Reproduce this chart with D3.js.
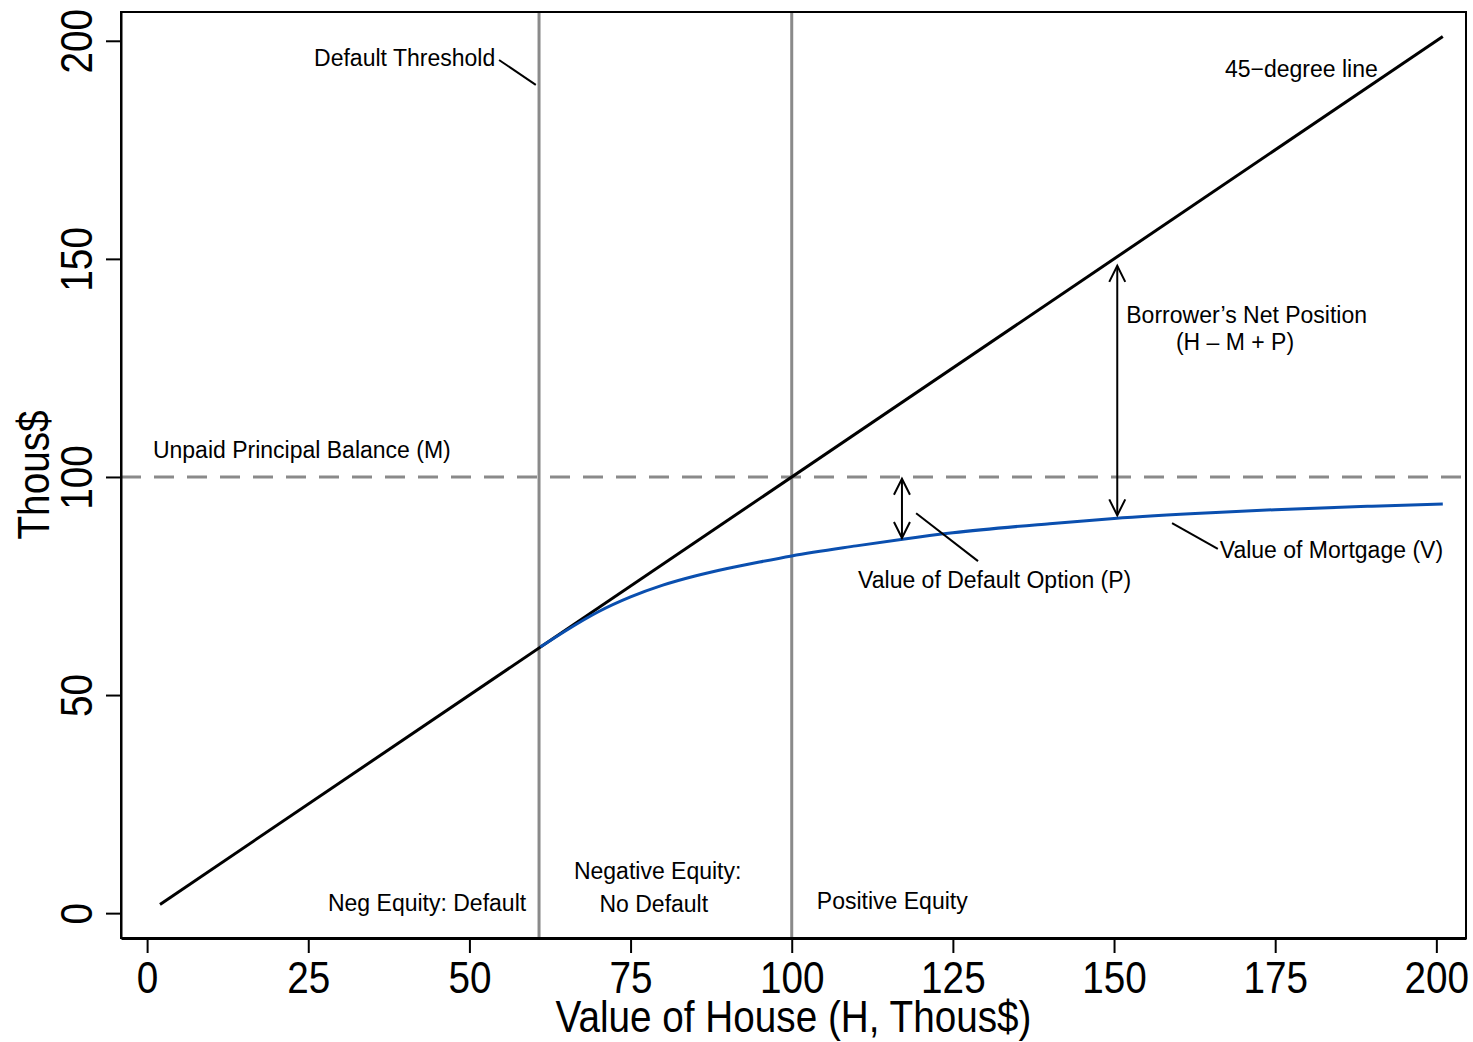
<!DOCTYPE html>
<html>
<head>
<meta charset="utf-8">
<script src="https://cdn.jsdelivr.net/npm/d3@7"></script>
<style>
  body { margin: 0; background: #fff; }
  .ann { font-family: "Liberation Sans", Arial, sans-serif; font-size: 23px; fill: #000; }
  .big { font-family: "Liberation Sans", Arial, sans-serif; font-size: 45px; fill: #000; }
</style>
</head>
<body>
<div id="chart"></div>
<script>
// house value (H) vs value of mortgage (V), thous$
const houseValues    = [61, 65, 70, 75, 80, 85, 90, 95, 100, 110, 117.5, 125, 140, 150, 165, 175, 190, 201];
const mortgageValues = [61, 64.8, 69.1, 72.5, 75.2, 77.3, 79.0, 80.5, 81.9, 84.2, 85.8, 87.2, 89.3, 90.5, 91.8, 92.5, 93.3, 93.8];
const diagonalEnds = [2, 201];          // 45-degree line, H = V
const principal = 100;                   // unpaid principal balance (M)
const defaultThreshold = 60.8;           // vertical line
const xTicks = [0, 25, 50, 75, 100, 125, 150, 175, 200];
const yTicks = [0, 50, 100, 150, 200];

// annotations in data units
const labels = [
  { text: "Default Threshold", x: 54.0, y: 194.3, anchor: "end" },
  { text: "45\u2212degree line", x: 167.2, y: 191.6, anchor: "start" },
  { text: "Borrower\u2019s Net Position", x: 151.9, y: 135.3, anchor: "start" },
  { text: "(H \u2013 M + P)", x: 159.6, y: 129.1, anchor: "start" },
  { text: "Unpaid Principal Balance (M)", x: 0.9, y: 104.3, anchor: "start" },
  { text: "Value of Default Option (P)", x: 110.3, y: 74.5, anchor: "start" },
  { text: "Value of Mortgage (V)", x: 166.4, y: 81.4, anchor: "start" },
  { text: "Neg Equity: Default", x: 58.8, y: 0.5, anchor: "end" },
  { text: "Negative Equity:", x: 79.2, y: 7.8, anchor: "middle" },
  { text: "No Default", x: 78.6, y: 0.3, anchor: "middle" },
  { text: "Positive Equity", x: 103.9, y: 0.9, anchor: "start" }
];
const leaders = [
  [[54.6, 195.6], [60.3, 189.9]],
  [[119.3, 91.7], [128.9, 80.7]],
  [[159.0, 89.4], [166.1, 83.5]]
];
const doubleArrows = [
  { x: 150.5, y0: 148.4, y1: 91.2 },
  { x: 117.1, y0: 99.6, y1: 86.0 }
];

const WIDTH = 1473, HEIGHT = 1042;
const M = { left: 121, right: 7, top: 12, bottom: 104 };
const W = WIDTH - M.left - M.right;
const H = HEIGHT - M.top - M.bottom;
const NARROW = 0.86;   // horizontal squeeze of the big axis text

const x = d3.scaleLinear().domain([-4.05, 204.6]).range([M.left, M.left + W]);
const y = d3.scaleLinear().domain([-5.7, 206.6]).range([M.top + H, M.top]);

const GRAY = "#8a8a8a";
const BLUE = "#0a4faf";

const svg = d3.select("#chart").append("svg")
  .attr("width", WIDTH).attr("height", HEIGHT);

// gray reference lines
svg.append("line")
  .attr("x1", x.range()[0]).attr("x2", x.range()[1])
  .attr("y1", y(principal)).attr("y2", y(principal))
  .attr("stroke", GRAY).attr("stroke-width", 3).attr("stroke-dasharray", "20,13");

[defaultThreshold, principal].forEach(v => {
  svg.append("line")
    .attr("x1", x(v)).attr("x2", x(v))
    .attr("y1", y.range()[1]).attr("y2", y.range()[0])
    .attr("stroke", GRAY).attr("stroke-width", 3);
});

// 45-degree line
svg.append("path")
  .datum(diagonalEnds)
  .attr("d", d3.line().x(d => x(d)).y(d => y(d)))
  .attr("fill", "none").attr("stroke", "#000").attr("stroke-width", 3);

// mortgage value curve
const curveData = houseValues.map((h, i) => ({ h, v: mortgageValues[i] }));
svg.append("path")
  .datum(curveData)
  .attr("d", d3.line().curve(d3.curveMonotoneX).x(d => x(d.h)).y(d => y(d.v)))
  .attr("fill", "none").attr("stroke", BLUE).attr("stroke-width", 3);

// double arrows with open heads
const headLen = 16, headHalf = 8;
doubleArrows.forEach(a => {
  const px = x(a.x), top = y(a.y0), bot = y(a.y1);
  const g = svg.append("g").attr("fill", "none").attr("stroke", "#000").attr("stroke-width", 2);
  g.append("line").attr("x1", px).attr("x2", px).attr("y1", top).attr("y2", bot);
  g.append("path").attr("d", `M${px - headHalf},${top + headLen}L${px},${top}L${px + headHalf},${top + headLen}`);
  g.append("path").attr("d", `M${px - headHalf},${bot - headLen}L${px},${bot}L${px + headHalf},${bot - headLen}`);
});

// leader lines
leaders.forEach(l => {
  svg.append("line")
    .attr("x1", x(l[0][0])).attr("y1", y(l[0][1]))
    .attr("x2", x(l[1][0])).attr("y2", y(l[1][1]))
    .attr("stroke", "#000").attr("stroke-width", 2);
});

// annotation text
svg.selectAll("text.ann").data(labels).join("text")
  .attr("class", "ann")
  .attr("x", d => x(d.x)).attr("y", d => y(d.y))
  .attr("text-anchor", d => d.anchor)
  .text(d => d.text);

// frame
svg.append("rect")
  .attr("x", M.left).attr("y", M.top).attr("width", W).attr("height", H)
  .attr("fill", "none").attr("stroke", "#000").attr("stroke-width", 2);

// axes
const gX = svg.append("g").attr("transform", `translate(0,${M.top + H})`)
  .call(d3.axisBottom(x).tickValues(xTicks).tickSize(15).tickSizeOuter(0));
gX.attr("font-family", null).attr("font-size", null);
gX.select(".domain").attr("stroke-width", 3);
gX.selectAll(".tick line").attr("stroke-width", 2);
gX.selectAll(".tick text").attr("class", "big")
  .attr("x", 0).attr("y", 0).attr("dy", 0)
  .attr("transform", `translate(0,55) scale(${NARROW},1)`);

const gY = svg.append("g").attr("transform", `translate(${M.left},0)`)
  .call(d3.axisLeft(y).tickValues(yTicks).tickSize(15).tickSizeOuter(0));
gY.attr("font-family", null).attr("font-size", null);
gY.select(".domain").attr("stroke-width", 2);
gY.selectAll(".tick line").attr("stroke-width", 2);
gY.selectAll(".tick text").attr("class", "big")
  .attr("x", 0).attr("y", 0).attr("dy", 0)
  .attr("text-anchor", "middle")
  .attr("transform", `translate(-29,0) rotate(-90) scale(${NARROW},1)`);

// axis titles
svg.append("text").attr("class", "big")
  .attr("text-anchor", "middle")
  .attr("transform", `translate(${M.left + W / 2},1032) scale(${NARROW},1)`)
  .text("Value of House (H, Thous$)");

svg.append("text").attr("class", "big")
  .attr("text-anchor", "middle")
  .attr("transform", `translate(49,${M.top + H / 2}) rotate(-90) scale(${NARROW},1)`)
  .text("Thous$");
</script>
</body>
</html>
